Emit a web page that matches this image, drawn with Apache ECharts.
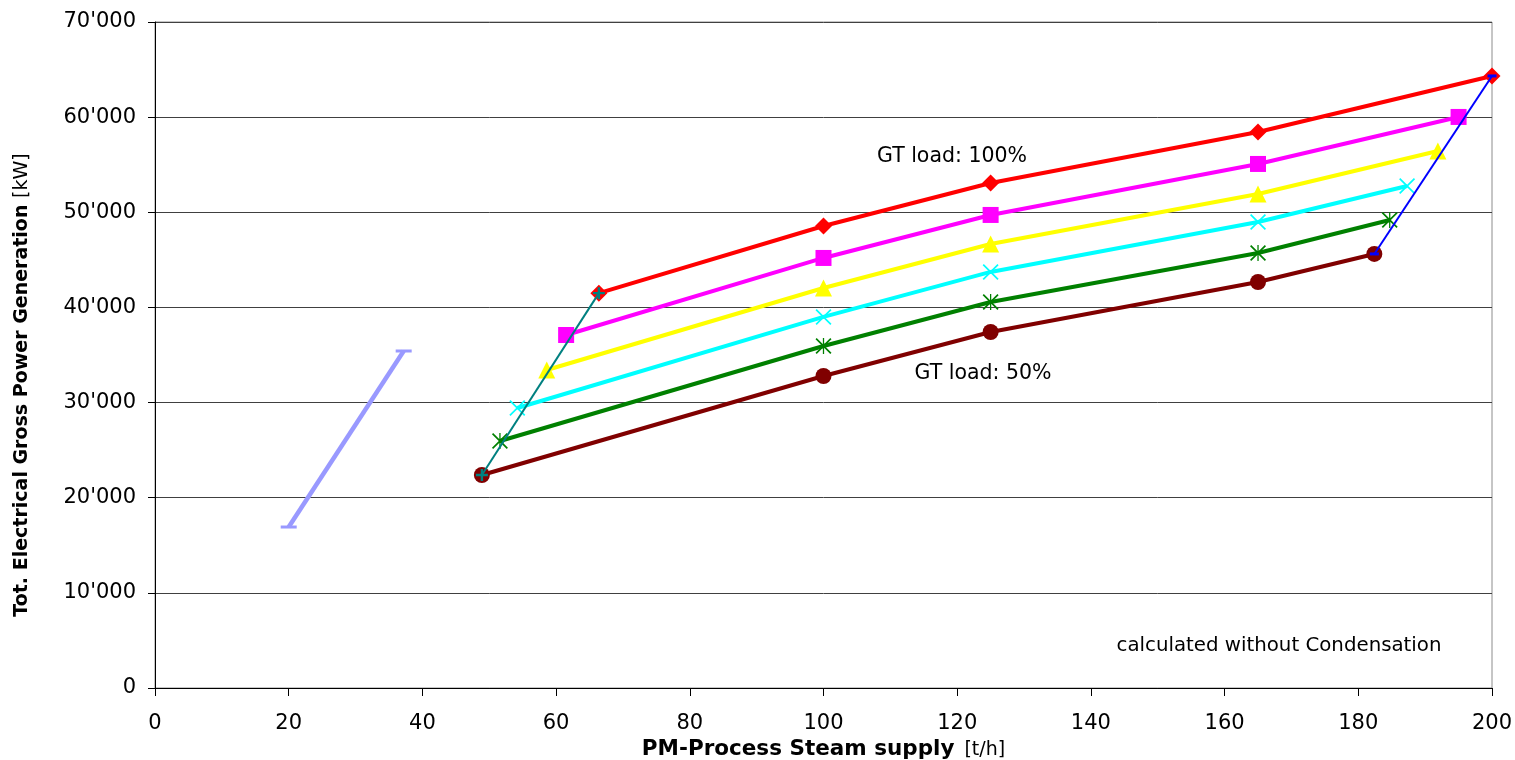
<!DOCTYPE html>
<html>
<head>
<meta charset="utf-8">
<script src="https://cdn.jsdelivr.net/npm/echarts@6/dist/echarts.min.js"></script>
<style>
html,body{margin:0;padding:0;background:#fff;}
#chart{width:1515px;height:760px;}
</style>
</head>
<body>
<div id="chart"></div>
<script>
// Steam supply [t/h] and power [kW] per GT load line
const steam100 = [66.4, 100, 125, 165, 200];
const power100 = [41500, 48560, 53080, 58440, 64330];
const steam90 = [61.5, 100, 125, 165, 195];
const power90 = [37100, 45200, 49720, 55080, 60020];
const steam80 = [58.6, 100, 125, 165, 191.9];
const power80 = [33420, 42040, 46670, 51920, 56440];
const steam70 = [54.2, 100, 125, 165, 187.3];
const power70 = [29430, 39000, 43730, 48980, 52760];
const steam60 = [51.6, 100, 125, 165, 184.7];
const power60 = [25960, 35950, 40570, 45720, 49190];
const steam50 = [48.9, 100, 125, 165, 182.4];
const power50 = [22390, 32790, 37420, 42670, 45620];
// boundary lines
const steamMin = [48.9, 66.4];
const powerMin = [22390, 41500];
const steamMax = [182.4, 200];
const powerMax = [45620, 64330];
// separate light-blue line
const steamAux = [20, 37.2];
const powerAux = [16920, 35420];

const xTicks = [0, 20, 40, 60, 80, 100, 120, 140, 160, 180, 200];
const yTicks = [0, 10000, 20000, 30000, 40000, 50000, 60000, 70000];

const FONT = 'DejaVu Sans';
function zip(xs, ys){ return xs.map((x,i)=>[x, ys[i]]); }
function fmtK(v){ return String(Math.round(v)).replace(/\B(?=(\d{3})+(?!\d))/g, "'"); }

const plusPath = 'path://M4,0H6V4H10V6H6V10H4V6H0V4H4Z';
const crossPath = 'path://M1.5,0L10,8.5L18.5,0L20,1.5L11.5,10L20,18.5L18.5,20L10,11.5L1.5,20L0,18.5L8.5,10L0,1.5Z';
const starPath = 'path://M1.5,0L10,8.5L18.5,0L20,1.5L11.5,10L20,18.5L18.5,20L10,11.5L1.5,20L0,18.5L8.5,10L0,1.5Z M9.2,0H10.8V20H9.2Z';

function mainSeries(name, xs, ys, color, symbol, size){
  return {
    name, type:'line', data: zip(xs, ys), symbol, symbolSize:size,
    lineStyle:{color, width:4}, itemStyle:{color, borderWidth:0},
    showSymbol:true, animation:false, z:3
  };
}

const chart = echarts.init(document.getElementById('chart'), null, {renderer:'canvas'});
chart.setOption({
  animation:false,
  backgroundColor:'#ffffff',
  grid:{left:155, right:23, top:22, bottom:72, outerBoundsMode:'none', containLabel:false,
    show:true, borderColor:'#8c8c8c', borderWidth:1, backgroundColor:'transparent'},
  xAxis:{
    type:'value', min:xTicks[0], max:xTicks[xTicks.length-1], interval:20,
    axisLine:{show:true, onZero:false, lineStyle:{color:'#000', width:1}},
    axisTick:{show:true, inside:false, length:8, lineStyle:{color:'#000'}},
    axisLabel:{color:'#000', fontFamily:FONT, fontSize:21, margin:25},
    splitLine:{show:false},
    name:'{b|PM-Process Steam supply}   {n|[t/h]}',
    nameLocation:'middle', nameGap:50,
    nameTextStyle:{rich:{
      b:{fontFamily:FONT, fontWeight:'bold', fontSize:21.5, color:'#000'},
      n:{fontFamily:FONT, fontSize:19, color:'#000'}
    }}
  },
  yAxis:{
    type:'value', min:yTicks[0], max:yTicks[yTicks.length-1], interval:10000,
    axisLine:{show:true, onZero:false, lineStyle:{color:'#000', width:1}},
    axisTick:{show:true, inside:false, length:7, lineStyle:{color:'#000'}},
    axisLabel:{color:'#000', fontFamily:FONT, fontSize:21, margin:19, formatter:fmtK},
    splitLine:{show:true, lineStyle:{color:'#404040', width:1}}
  },
  graphic:[
    {type:'text', x:22, y:385, rotation:Math.PI/2, z:10,
      style:{text:'{b|Tot. Electrical Gross Power Generation}  {n|[kW]}', align:'center', verticalAlign:'middle',
        rich:{
          b:{fontFamily:FONT, fontWeight:'bold', fontSize:19, fill:'#000'},
          n:{fontFamily:FONT, fontSize:19, fill:'#000'}
        }}},
    {type:'text', x:952, y:157, z:10,
      style:{text:'GT load: 100%', fontFamily:FONT, fontSize:20.5, fill:'#000', align:'center', verticalAlign:'middle'}},
    {type:'text', x:983, y:374, z:10,
      style:{text:'GT load: 50%', fontFamily:FONT, fontSize:20.5, fill:'#000', align:'center', verticalAlign:'middle'}},
    {type:'text', x:1279, y:646, z:10,
      style:{text:'calculated without Condensation', fontFamily:FONT, fontSize:19.8, fill:'#000', align:'center', verticalAlign:'middle'}}
  ],
  series:[
    mainSeries('50%', steam50, power50, '#800000', 'circle', 16),
    mainSeries('60%', steam60, power60, '#008000', starPath, 16),
    mainSeries('70%', steam70, power70, '#00ffff', crossPath, 16),
    mainSeries('80%', steam80, power80, '#ffff00', 'triangle', 17),
    mainSeries('90%', steam90, power90, '#ff00ff', 'rect', 16),
    mainSeries('100%', steam100, power100, '#ff0000', 'diamond', 17),
    {name:'min', type:'line', data:zip(steamMin, powerMin), symbol:plusPath, symbolSize:12,
      lineStyle:{color:'#008080', width:2}, itemStyle:{color:'#008080'}, z:5},
    {name:'max', type:'line', data:zip(steamMax, powerMax), symbol:'rect', symbolSize:[9,3],
      lineStyle:{color:'#0000ff', width:2}, itemStyle:{color:'#0000ff'}, z:5},
    {name:'aux', type:'line', data:zip(steamAux, powerAux), symbol:'rect', symbolSize:[16,3],
      lineStyle:{color:'#9999ff', width:4.5}, itemStyle:{color:'#9999ff'}, z:4}
  ]
});
</script>
</body>
</html>
